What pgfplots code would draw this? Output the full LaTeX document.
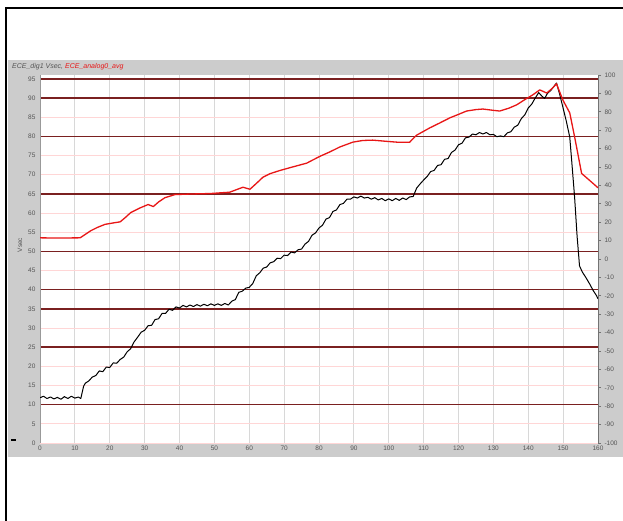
\documentclass[border=0pt]{standalone}
\usepackage{pgfplots}
\pgfplotsset{compat=1.18}
\usepackage{fontspec}
\setmainfont{Liberation Sans}

\definecolor{panel}{RGB}{204,204,204}
\definecolor{refline}{RGB}{122,32,32}
\definecolor{pinkgrid}{RGB}{255,214,214}
\definecolor{vgrid}{RGB}{216,216,216}
\definecolor{sigred}{RGB}{232,22,22}
\definecolor{labelgray}{RGB}{85,85,85}

% black trace: ECE_dig1 (left scale)
\pgfplotstableread{
x y
0 11.8
1 12.2
2 11.6
3 12.0
4 11.5
5 11.9
6 11.4
7 12.1
8 11.6
9 12.2
10 11.7
11 12.0
11.7 11.6
12.5 14.8
13 15.6
14 16.2
15 17.2
16 17.6
17 18.8
18 18.6
19 19.8
20 19.7
21 20.9
22 20.8
23 21.8
24 22.4
25 23.8
26 24.6
27 26.4
28 27.6
29 28.9
30 29.4
31 30.6
32 30.7
33 32.2
34 32.4
35 33.8
36 33.8
37 34.9
38 34.6
39 35.5
40 35.2
41 35.9
42 35.5
43 36.0
44 35.6
45 36.1
46 35.7
47 36.2
48 35.8
49 36.3
50 35.9
51 36.3
52 35.9
53 36.4
54 36.0
55 37.0
56 37.4
57 39.3
58 39.6
59 40.4
60 40.6
61 41.6
62 43.6
63 44.4
64 45.6
65 45.9
66 47.0
67 47.3
68 48.2
69 48.1
70 49.0
71 48.9
72 49.8
73 49.6
74 50.4
75 50.6
76 51.9
77 52.6
78 54.2
79 54.8
80 56.1
81 56.8
82 58.4
83 58.8
84 60.4
85 60.8
86 62.2
87 62.5
88 63.6
89 63.6
90 64.2
91 63.9
92 64.4
93 63.9
94 64.1
95 63.6
96 64.0
97 63.4
98 63.8
99 63.2
100 63.7
101 63.2
102 63.8
103 63.3
104 63.9
105 63.5
106 64.2
107 64.3
108 66.5
109 67.6
110 68.6
111 69.5
112 70.8
113 71.1
114 72.4
115 72.6
116 74.0
117 74.2
118 75.8
119 76.4
120 77.8
121 78.2
122 79.6
123 79.8
124 80.6
125 80.4
126 81.0
127 80.6
128 81.0
129 80.4
130 80.5
131 79.9
132 80.1
133 79.9
134 80.9
135 81.2
136 82.4
137 82.9
138 84.6
139 85.6
140 87.4
141 88.4
142 90.0
143 91.4
144 90.4
144.7 89.9
145.5 91.2
146.5 92.0
147.5 93.2
148.1 93.9
149.0 91.0
149.9 87.7
150.9 84.0
151.9 79.8
152.6 72.0
153.3 64.0
154.0 54.0
154.7 46.2
155.5 44.6
156.5 43.2
157.6 41.5
158.6 39.8
159.6 38.4
160 37.6
}\digtable

% red trace: ECE_analog0_avg (right scale)
\pgfplotstableread{
x y
0 11.5
5 11.4
11.5 11.5
13 13.4
14.6 15.4
16.5 17.2
18.6 18.8
21 19.6
23 20.2
24.5 22.6
26 25.2
28.5 27.6
31 29.6
32.5 28.5
34 31.0
35.8 33.3
38.7 35.0
43 35.3
49 35.6
54.4 36.3
56.5 37.8
58.2 39.0
60.2 37.9
62 41.0
63.9 44.4
66 46.4
68.8 48.1
72 49.8
76.5 52.1
78.2 53.8
80.5 56.0
83 58.1
86 60.9
89.7 63.5
92.5 64.4
95.4 64.6
99 64.0
102.3 63.5
106 63.5
108 67.3
110 69.4
111.7 71.2
114.5 73.8
117.5 76.7
120 78.6
122.3 80.4
125 81.2
127 81.5
129.5 80.9
131.8 80.4
134.5 82.0
136.7 83.8
139 86.6
141.3 89.2
143.3 91.9
145.3 90.2
146.8 92.6
148.1 95.2
149.9 86.5
151.9 79.4
153.3 66.3
155.3 46.5
157.6 42.7
160 38.7
}\anatable

\pgfplotsset{
  frame/.style={
    at={(40pt,78pt)}, anchor=south west, scale only axis,
    width=558pt, height=368pt, xmin=0, xmax=160,
  },
  baseaxis/.style={
    frame, ymin=0, ymax=96,
    axis line style={draw=none},
    tick style={draw=none},
    xticklabels={}, yticklabels={},
  },
  ticktext/.style={font=\fontsize{6.5}{7}\selectfont, text=labelgray},
}

\begin{document}
\begin{tikzpicture}[x=1pt,y=1pt]
\useasboundingbox (0,0) rectangle (623,521);
\fill[white] (0,0) rectangle (623,521);
\fill[panel] (8,64) rectangle (623,461);
\draw[black, line width=2.4pt] (6,0) -- (6,513) -- (623,513);

% plot area and vertical grid
\begin{axis}[baseaxis,
  axis background/.style={fill=white},
  xtick={0,10,...,160}, ytick=\empty,
  xmajorgrids, major grid style={draw=vgrid, line width=0.8pt}]
\end{axis}

% light horizontal grid every 5 units
\begin{axis}[baseaxis,
  xtick=\empty, ytick={0,5,...,95},
  ymajorgrids, major grid style={draw=pinkgrid, line width=0.8pt}]
\end{axis}

% reference levels
\begin{axis}[baseaxis,
  xtick=\empty, ytick={10,25,35,40,50,65,80,90,95},
  ymajorgrids, major grid style={draw=refline, line width=1.6pt}]
\end{axis}

% left scale with the digital trace
\begin{axis}[frame, ymin=0, ymax=96,
  axis x line*=bottom, axis y line*=left,
  x axis line style={draw=none},
  y axis line style={draw=gray!80, line width=0.8pt, -},
  xtick={0,10,...,160}, ytick={0,5,...,95},
  tick style={draw=none},
  tick label style={ticktext},
  /pgf/number format/assume math mode=true,
  xticklabel style={yshift=1pt},
  yticklabel style={xshift=-1pt},
]
\addplot[black, line width=1pt, line join=round] table[x=x,y=y] {\digtable};
\end{axis}

% right scale with the analog trace
\begin{axis}[frame, ymin=-100, ymax=100,
  axis x line=none, axis y line*=right,
  y axis line style={draw=gray!90!black, line width=0.9pt, -},
  ytick={-100,-90,...,100},
  tick align=outside, major tick length=3pt,
  tick style={draw=gray!90!black, line width=0.6pt},
  tick label style={ticktext},
  /pgf/number format/assume math mode=true,
]
\addplot[sigred, line width=1.3pt, line join=round] table[x=x,y=y] {\anatable};
\end{axis}

\node[anchor=west, inner sep=0pt, font=\fontsize{7}{8}\itshape] at (12,454)
  {\textcolor{labelgray}{ECE\_dig1 Vsec,} \textcolor{sigred}{ECE\_analog0\_avg}};
\node[rotate=90, inner sep=0pt, font=\fontsize{6.5}{7}\selectfont, text=labelgray] at (20,276) {Vsec};
\fill[black] (11,80) rectangle (16,82);
\end{tikzpicture}
\end{document}
